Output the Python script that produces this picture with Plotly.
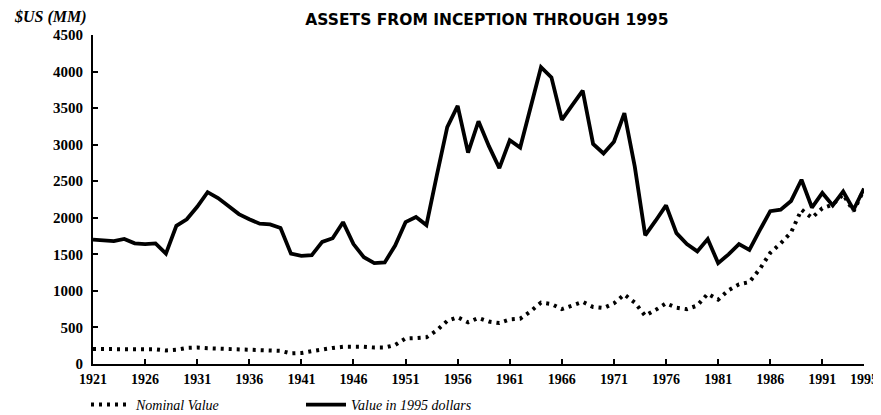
import plotly.graph_objects as go

years = list(range(1921, 1996))

nominal_value = [
    205, 205, 205, 205, 205, 200, 200, 185, 195, 220,
    225, 215, 210, 205, 200, 200, 195, 195, 180, 145,
    150, 175, 200, 220, 235, 240, 235, 225, 225, 260,
    350, 355, 365, 460, 590, 640, 570, 630, 580, 560,
    610, 620, 720, 840, 820, 750, 800, 850, 780, 765,
    830, 950, 840, 660, 740, 830, 770, 750, 800, 960,
    880, 1010, 1090, 1120, 1300, 1520, 1650, 1800, 2110, 2000,
    2130, 2180, 2320, 2090, 2390,
]

value_1995_dollars = [
    1700, 1690, 1680, 1710, 1650, 1640, 1650, 1510, 1890, 1980,
    2150, 2350, 2270, 2160, 2050, 1980, 1920, 1910, 1860, 1510,
    1480, 1490, 1670, 1720, 1940, 1640, 1460, 1380, 1390, 1620,
    1940, 2010, 1900, 2580, 3240, 3530, 2890, 3320, 2980, 2680,
    3060, 2960, 3500, 4060, 3920, 3340, 3540, 3740, 3010, 2880,
    3040, 3430, 2700, 1760, 1960, 2170, 1790, 1640, 1540, 1710,
    1380, 1500, 1640, 1560, 1830, 2090, 2110, 2230, 2520, 2140,
    2340, 2170, 2360, 2110, 2400,
]

x_tick_years = [1921, 1926, 1931, 1936, 1941, 1946, 1951, 1956, 1961, 1966,
                1971, 1976, 1981, 1986, 1991, 1995]
y_ticks = [0, 500, 1000, 1500, 2000, 2500, 3000, 3500, 4000, 4500]

title_text = "ASSETS FROM INCEPTION THROUGH 1995"
y_unit_text = "$US (MM)"
series_names = ["Nominal Value", "Value in 1995 dollars"]

SERIF = "Liberation Serif, DejaVu Serif, serif"

# the page has an 8px body margin; the figure is sized to the visible area
W, H = 873, 407
ML, MR, MT, MB = 85, 17, 27, 51
PW, PH = W - ML - MR, H - MT - MB

fig = go.Figure()
fig.add_trace(go.Scatter(
    x=years, y=nominal_value, mode="lines", name=series_names[0],
    line=dict(color="black", width=4, dash="3px,5px"),
))
fig.add_trace(go.Scatter(
    x=years, y=value_1995_dollars, mode="lines", name=series_names[1],
    line=dict(color="black", width=3.8),
))

fig.update_layout(
    width=W, height=H, autosize=False,
    margin=dict(l=ML, r=MR, t=MT, b=MB, autoexpand=False),
    paper_bgcolor="white", plot_bgcolor="white",
    showlegend=True,
    title=dict(
        text="<b>" + title_text + "</b>",
        font=dict(family="DejaVu Sans, sans-serif", size=15.5, color="black"),
        x=(479 - ML) / PW, xref="paper", xanchor="center",
        y=1 - 12 / H, yref="container", yanchor="middle",
    ),
    legend=dict(
        orientation="h", x=(78 - ML) / PW, xanchor="left",
        y=-41 / PH, yanchor="middle",
        itemwidth=40,
        entrywidth=160, entrywidthmode="pixels",
        font=dict(family=SERIF, size=14, color="black", style="italic"),
        bgcolor="rgba(0,0,0,0)",
    ),
    xaxis=dict(
        range=[1921, 1995], tickmode="array", tickvals=x_tick_years,
        ticktext=[str(v) for v in x_tick_years],
        showgrid=False, zeroline=False, automargin=False,
        showline=True, linecolor="black", linewidth=2,
        ticks="inside", ticklen=5, tickwidth=1.5, tickcolor="black",
        ticklabelstandoff=1, ticklabeloverflow="allow",
        tickfont=dict(family=SERIF, size=14, color="black", weight="bold"),
    ),
    yaxis=dict(
        range=[0, 4500], tickmode="array", tickvals=y_ticks,
        showgrid=False, zeroline=False, automargin=False,
        showline=True, linecolor="black", linewidth=2,
        ticks="inside", ticklen=5, tickwidth=1.5, tickcolor="black",
        ticklabelstandoff=5,
        tickfont=dict(family=SERIF, size=15, color="black", weight="bold"),
    ),
    annotations=[dict(
        text="<i>" + y_unit_text + "</i>", xref="paper", yref="paper",
        x=(4 - ML) / PW, y=(PH + 18) / PH, xanchor="left", yanchor="middle",
        showarrow=False,
        font=dict(family=SERIF, size=16, color="black", weight="bold"),
    )],
)

fig.write_html("out.html")
